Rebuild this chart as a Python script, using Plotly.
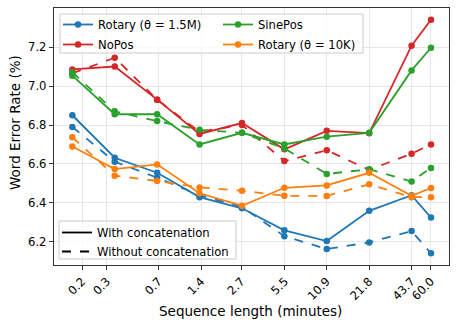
import plotly.graph_objects as go

seq_len = [0.1707, 0.3413, 0.6827, 1.365, 2.731, 5.461, 10.92, 21.85, 43.69, 60.0]
tick_vals = [0.2, 0.3, 0.7, 1.4, 2.7, 5.5, 10.9, 21.8, 43.7, 60.0]
tick_text = ["0.2", "0.3", "0.7", "1.4", "2.7", "5.5", "10.9", "21.8", "43.7", "60.0"]
y_ticks = [6.2, 6.4, 6.6, 6.8, 7.0, 7.2]

rot15m_concat = [6.85, 6.632, 6.555, 6.43, 6.373, 6.26, 6.205, 6.36, 6.44, 6.325]
rot15m_noconcat = [6.79, 6.612, 6.53, 6.44, 6.38, 6.23, 6.164, 6.198, 6.256, 6.142]
nopos_concat = [7.085, 7.10, 6.93, 6.754, 6.81, 6.675, 6.77, 6.758, 7.207, 7.34]
nopos_noconcat = [7.065, 7.145, 6.93, 6.765, 6.80, 6.615, 6.67, 6.57, 6.653, 6.70]
sinepos_concat = [7.053, 6.855, 6.855, 6.70, 6.76, 6.70, 6.74, 6.76, 7.08, 7.196]
sinepos_noconcat = [7.07, 6.87, 6.82, 6.775, 6.76, 6.68, 6.549, 6.573, 6.51, 6.58]
rot10k_concat = [6.69, 6.574, 6.598, 6.45, 6.386, 6.478, 6.49, 6.555, 6.437, 6.477]
rot10k_noconcat = [6.737, 6.54, 6.513, 6.48, 6.463, 6.437, 6.436, 6.496, 6.43, 6.43]

series = [
    ("Rotary (θ = 1.5M)", "#1f77b4", rot15m_concat, rot15m_noconcat, "legend"),
    ("NoPos", "#d62728", nopos_concat, nopos_noconcat, "legend"),
    ("SinePos", "#2ca02c", sinepos_concat, sinepos_noconcat, "legend2"),
    ("Rotary (θ = 10K)", "#ff7f0e", rot10k_concat, rot10k_noconcat, "legend2"),
]

fig = go.Figure()
for i, (name, color, yc, yn, lg) in enumerate(series):
    fig.add_trace(go.Scatter(x=seq_len, y=yc, mode="lines+markers", name=name,
                             line=dict(color=color, width=1.8), legendgroup=f"g{i}",
                             marker=dict(color=color, size=6.5), legend=lg))
    fig.add_trace(go.Scatter(x=seq_len, y=yn, mode="lines+markers", name=name,
                             line=dict(color=color, width=1.8, dash="dash"), legendgroup=f"g{i}",
                             marker=dict(color=color, size=6.5), showlegend=False))

fig.add_trace(go.Scatter(x=[None], y=[None], mode="lines", name="With concatenation",
                         line=dict(color="black", width=1.8), legend="legend3", legendgroup="c1"))
fig.add_trace(go.Scatter(x=[None], y=[None], mode="lines", name="Without concatenation",
                         line=dict(color="black", width=1.8, dash="dash"), legend="legend3",
                         legendgroup="c2"))

W, H = 458, 327
L, R, T, B = 54, 9, 8, 62
pw, ph = W - L - R, H - T - B

def px(x):
    return (x - L) / pw

def py(y):
    return (H - B - y) / ph

legfont = dict(family="DejaVu Sans", size=11.6, color="black")
common = dict(font=legfont, bgcolor="rgba(0,0,0,0)", borderwidth=0,
              xanchor="left", yanchor="top", itemwidth=30)

fig.update_layout(
    width=W, height=H,
    margin=dict(l=L, r=R, t=T, b=B, autoexpand=False),
    plot_bgcolor="white", paper_bgcolor="white",
    font=dict(family="DejaVu Sans", size=11.6, color="black"),
    legend=dict(x=px(58), y=py(10), tracegroupgap=1, **common),
    legend2=dict(x=px(218), y=py(10), tracegroupgap=1, **common),
    legend3=dict(x=px(57), y=py(218), tracegroupgap=0, **common),
    xaxis=dict(type="log", range=[-0.898, 1.906], tickvals=tick_vals, ticktext=tick_text,
               tickangle=-45, showgrid=True, gridcolor="#e6e6e6", gridwidth=1,
               showline=True, linecolor="#333", linewidth=1.3, mirror=True,
               ticks="outside", ticklen=4, tickcolor="#333", zeroline=False,
               tickfont=dict(size=11.6), automargin=False),
    yaxis=dict(range=[6.082, 7.40], tickvals=y_ticks, tickformat=".1f",
               showgrid=True, gridcolor="#e6e6e6", gridwidth=1,
               showline=True, linecolor="#333", linewidth=1.3, mirror=True,
               ticks="outside", ticklen=4, tickcolor="#333", zeroline=False,
               tickfont=dict(size=11.6), automargin=False),
    annotations=[
        dict(text="Sequence length (minutes)", xref="paper", yref="paper",
             x=px(250), y=py(311), xanchor="center", yanchor="middle",
             showarrow=False, font=dict(size=13.5)),
        dict(text="Word Error Rate (%)", xref="paper", yref="paper",
             x=px(15), y=py(123), xanchor="center", yanchor="middle", textangle=-90,
             showarrow=False, font=dict(size=13.5)),
    ],
    shapes=[
        dict(type="rect", xref="paper", yref="paper", x0=px(60), x1=px(363), y0=py(53), y1=py(14),
             line=dict(color="#cccccc", width=1), fillcolor="rgba(255,255,255,0.8)", layer="above"),
        dict(type="rect", xref="paper", yref="paper", x0=px(59), x1=px(236), y0=py(259), y1=py(221),
             line=dict(color="#cccccc", width=1), fillcolor="rgba(255,255,255,0.8)", layer="above"),
    ],
)

fig.write_html("out.html", config={"displayModeBar": False},
               post_script="document.body.style.margin='0';")
